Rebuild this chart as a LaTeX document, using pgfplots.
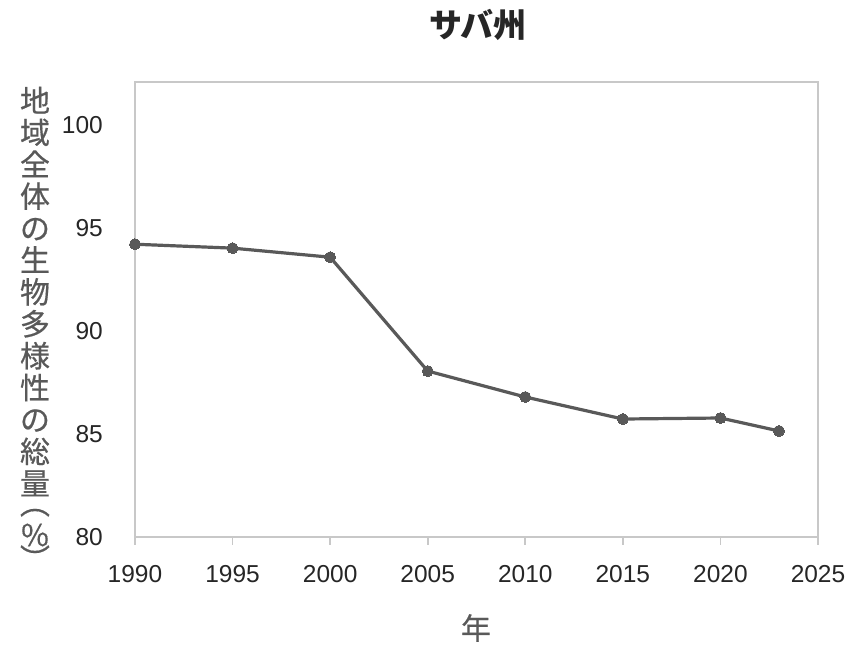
\documentclass[border=0pt]{standalone}
\usepackage{fontspec}
\setmainfont{Liberation Sans}
\newfontfamily\cjk{Noto Sans CJK JP}
\newfontfamily\cjkm[FakeBold=0.5]{Noto Sans CJK JP}
\usepackage{pgfplots}
\pgfplotsset{compat=1.18}
\definecolor{linegray}{RGB}{89,89,89}
\definecolor{framegray}{RGB}{200,200,200}
\definecolor{labelgray}{RGB}{89,89,89}

\begin{document}
\begin{tikzpicture}[x=1pt,y=1pt]
\useasboundingbox (-135,-131) rectangle (719,537);
\begin{axis}[
  at={(0,0)}, anchor=south west,
  scale only axis,
  width=683pt, height=455pt,
  xmin=1990, xmax=2025,
  ymin=80, ymax=102.1,
  xtick={1990,1995,...,2025},
  ytick={80,85,...,100},
  /pgf/number format/assume math mode=true,
  xticklabel={\pgfmathprintnumber[1000 sep={}]{\tick}},
  axis line style={framegray, line width=1.6pt},
  x tick style={framegray, line width=1.6pt},
  major tick length=8pt,
  xtick pos=bottom, xtick align=outside,
  ytick style={draw=none},
  tick label style={font=\fontsize{24.5}{26}\selectfont, text=black!85},
  x tick label style={inner sep=0pt, anchor=center, yshift=-29pt},
  y tick label style={inner sep=0pt, anchor=east, xshift=-32pt},
  clip=false,
]
\addplot[linegray, line width=3.2pt, mark=*, mark size=5.5pt, mark options={fill=linegray, draw=linegray, line width=0pt}]
coordinates {
  (1990,94.22) (1995,94.03) (2000,93.59) (2005,88.06)
  (2010,86.80) (2015,85.73) (2020,85.78) (2023,85.15)
};
\end{axis}
\node[font=\cjk\bfseries\fontsize{33}{34}\selectfont, text=black!85] at (343,512) {サバ州};
\node[font=\cjkm\fontsize{30}{32}\selectfont, text=labelgray] at (341,-91) {年};
\begin{scope}[every node/.style={font=\cjkm\fontsize{30}{31.9}\selectfont, text=labelgray, inner sep=0pt}]
\node[align=center] at (-100,245.5)
  {地\\域\\全\\体\\の\\生\\物\\多\\様\\性\\の\\総\\量};
\node[rotate=-90] at (-100,34) {（};
\node at (-100,2) {\%};
\node[rotate=-90] at (-100,-22) {）};
\end{scope}
\end{tikzpicture}
\end{document}
